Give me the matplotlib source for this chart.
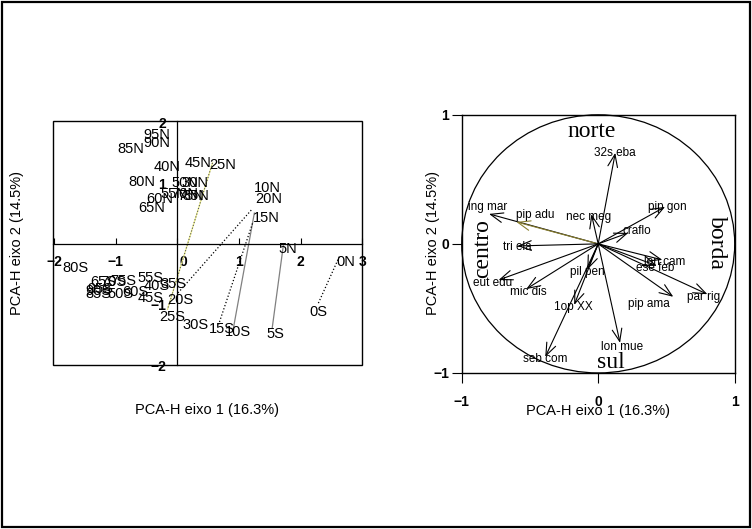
import matplotlib
matplotlib.use("Agg")
import matplotlib.pyplot as plt
import matplotlib.transforms as mtransforms
from matplotlib.patches import Rectangle, Ellipse
import numpy as np

plt.rcParams['font.family'] = ['Liberation Sans', 'DejaVu Sans']

# --- site scores (PCA-H axes 1 and 2), north and south transects ---
norte_lab = ["0N", "5N", "10N", "15N", "20N", "25N", "30N", "35N", "40N", "45N",
             "50N", "55N", "60N", "65N", "70N", "75N", "80N", "85N", "90N", "95N"]
norte_x = [2.73, 1.80, 1.46, 1.45, 1.48, 0.73, 0.28, 0.30, -0.16, 0.33,
           0.12, -0.05, -0.28, -0.41, 0.12, 0.22, -0.57, -0.76, -0.33, -0.33]
norte_y = [-0.30, -0.08, 0.93, 0.43, 0.74, 1.31, 1.00, 0.80, 1.28, 1.34,
           1.00, 0.82, 0.74, 0.59, 0.82, 0.80, 1.02, 1.57, 1.67, 1.80]

sul_lab = ["0S", "5S", "10S", "15S", "20S", "25S", "30S", "35S", "40S", "45S",
           "50S", "55S", "60S", "65S", "70S", "75S", "80S", "85S", "90S", "95S"]
sul_x = [2.29, 1.59, 0.99, 0.73, 0.05, -0.08, 0.29, -0.07, -0.33, -0.44,
         -0.93, -0.44, -0.68, -1.20, -1.04, -0.88, -1.66, -1.28, -1.28, -1.25]
sul_y = [-1.13, -1.48, -1.46, -1.41, -0.93, -1.20, -1.34, -0.66, -0.70, -0.90,
         -0.82, -0.57, -0.79, -0.62, -0.62, -0.61, -0.39, -0.82, -0.77, -0.74]

# links between paired stations (start in north, end in south)
link_x0 = [2.63, 1.72, 1.25, 1.22, 1.20, 0.57]
link_y0 = [-0.21, -0.03, 0.51, 0.34, 0.56, 1.34]
link_x1 = [2.28, 1.54, 0.91, 0.67, 0.00, -0.16]
link_y1 = [-1.00, -1.39, -1.39, -1.33, -0.82, -1.08]
link_style = [":", "-", "-", ":", ":", "-"]
link_color = ["black", "grey", "grey", "black", "black", "#eeee88"]

# --- species loadings ---
esp_lab = ["32s eba", "pip gon", "craflo", "nec meg", "ing mar", "pip adu",
           "tri ela", "eut edu", "mic dis", "pil pen", "1op XX", "seb com",
           "lon mue", "pip ama", "par rig", "lon cam", "ese feb"]
esp_x = [0.125, 0.49, 0.22, -0.05, -0.80, -0.60, -0.593, -0.73, -0.527, -0.08,
         -0.176, -0.388, 0.16, 0.55, 0.80, 0.47, 0.43]
esp_y = [0.705, 0.287, 0.085, 0.23, 0.232, 0.17, -0.016, -0.28, -0.35, -0.20,
         -0.473, -0.876, -0.767, -0.41, -0.39, -0.124, -0.17]
lab_x = [0.125, 0.505, 0.286, -0.073, -0.813, -0.46, -0.593, -0.77, -0.51, -0.08,
         -0.183, -0.388, 0.176, 0.374, 0.77, 0.49, 0.42]
lab_y = [0.705, 0.287, 0.10, 0.209, 0.287, 0.225, -0.023, -0.30, -0.37, -0.217,
         -0.488, -0.89, -0.80, -0.465, -0.41, -0.14, -0.186]

regioes = ["norte", "sul", "centro", "borda"]
reg_x = [-0.045, 0.095, -0.85, 0.865]
reg_y = [0.87, -0.92, -0.04, 0.01]
reg_rot = [0, 0, 90, -90]

fig = plt.figure(figsize=(7.52, 5.29), dpi=100)
fig.add_artist(Rectangle((0.003, 0.004), 0.994, 0.992, transform=fig.transFigure,
                         fill=False, lw=1.6, color="black"))

# ===== left panel: sites =====
ax1 = fig.add_axes([0.0705, 0.310, 0.411, 0.461])
ax1.set_xlim(-2.02, 3.0)
ax1.set_ylim(-2.0, 2.03)
ax1.spines['top'].set_visible(False)
ax1.spines['right'].set_visible(False)
ax1.spines['left'].set_position(('data', 0))
ax1.spines['bottom'].set_position(('data', 0))
ax1.spines['left'].set_linewidth(0.9)
ax1.spines['bottom'].set_linewidth(0.9)
ax1.add_patch(Rectangle((0, 0), 1, 1, transform=ax1.transAxes, fill=False,
                        lw=1.0, color="black", clip_on=False))
ax1.set_xticks([-2, -1, 0, 1, 2, 3])
ax1.set_yticks([-2, -1, 1, 2])
ax1.tick_params(axis='x', direction='in', length=4, width=0.8, pad=8, labelsize=10)
ax1.tick_params(axis='y', direction='in', length=0, pad=8, labelsize=10)
for t in ax1.get_xticklabels() + ax1.get_yticklabels():
    t.set_fontweight('bold')
zero_lab = ax1.get_xticklabels()[2]
zero_lab.set_transform(zero_lab.get_transform()
                       + mtransforms.ScaledTranslation(6 / 100, 0, fig.dpi_scale_trans))

for x0, y0, x1, y1, ls, c in zip(link_x0, link_y0, link_x1, link_y1, link_style, link_color):
    ax1.plot([x0, x1], [y0, y1], ls=ls, color=c, lw=0.9)
    if c != "black" and c != "grey":
        ax1.plot([x0, x1], [y0, y1], ls=":", color="#555555", lw=0.8)

for lab, x, y in zip(norte_lab, norte_x, norte_y):
    ax1.text(x, y, lab, ha='center', va='center', fontsize=10.5)
for lab, x, y in zip(sul_lab, sul_x, sul_y):
    ax1.text(x, y, lab, ha='center', va='center', fontsize=10.5)

fig.text(0.275, 0.225, "PCA-H eixo 1 (16.3%)", ha='center', va='center', fontsize=10.5)
fig.text(0.023, 0.54, "PCA-H eixo 2 (14.5%)", ha='center', va='center',
         rotation=90, fontsize=10.5)

# ===== right panel: species =====
ax2 = fig.add_axes([0.614, 0.295, 0.363, 0.488])
ax2.set_xlim(-1, 1)
ax2.set_ylim(-1, 1)
for s in ax2.spines.values():
    s.set_linewidth(1.0)
ax2.set_xticks([-1, 0, 1])
ax2.set_yticks([-1, 0, 1])
ax2.tick_params(axis='both', direction='out', length=7, width=0.8, labelsize=10)
ax2.tick_params(axis='x', pad=9)
ax2.tick_params(axis='y', pad=2)
for t in ax2.get_xticklabels() + ax2.get_yticklabels():
    t.set_fontweight('bold')
for i in (0, 2):
    ax2.xaxis.get_major_ticks()[i].tick1line.set_color("#eeee55")
    ax2.yaxis.get_major_ticks()[i].tick1line.set_color("#eeee55")

ax2.add_patch(Ellipse((0, 0), 2, 2, fill=False, lw=0.9, color="black", clip_on=False))

for nome, x, y in zip(esp_lab, esp_x, esp_y):
    cor = "#8a8030" if nome == "pip adu" else "black"
    ax2.annotate("", xy=(x, y), xytext=(0, 0),
                 arrowprops=dict(arrowstyle="->,head_length=0.9,head_width=0.35",
                                 color=cor, lw=0.8, shrinkA=0, shrinkB=0))
for nome, x, y in zip(esp_lab, lab_x, lab_y):
    ax2.text(x, y, nome, ha='center', va='center', fontsize=8.5)

for nome, x, y, r in zip(regioes, reg_x, reg_y, reg_rot):
    ax2.text(x, y, nome, ha='center', va='center', rotation=r, fontsize=17,
             family='Liberation Serif')

fig.text(0.795, 0.223, "PCA-H eixo 1 (16.3%)", ha='center', va='center', fontsize=10.5)
fig.text(0.576, 0.54, "PCA-H eixo 2 (14.5%)", ha='center', va='center',
         rotation=90, fontsize=10.5)

fig.savefig("out.png", dpi=100)
